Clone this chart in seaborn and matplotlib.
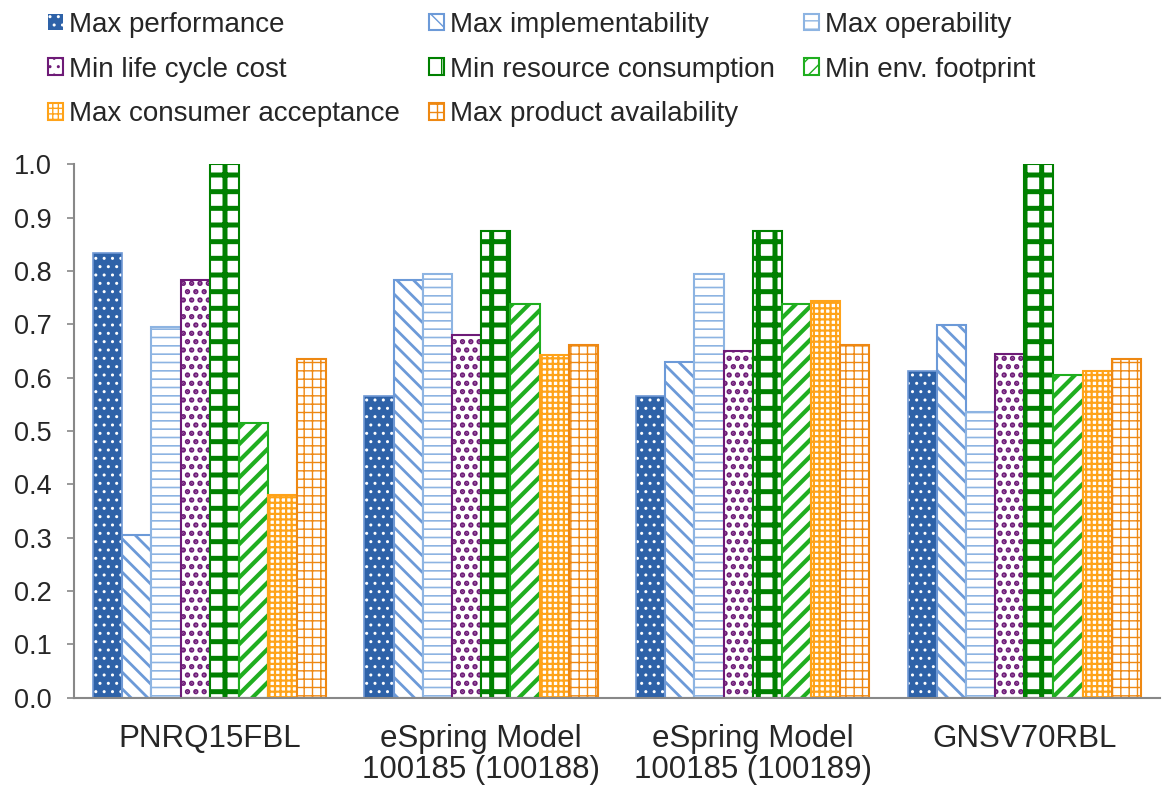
import pandas as pd
import numpy as np
import matplotlib.pyplot as plt
import matplotlib.patches as mpatches
import seaborn as sns

# categories and series
products = ['PNRQ15FBL', 'eSpring Model\n100185 (100188)',
            'eSpring Model\n100185 (100189)', 'GNSV70RBL']
criteria = ['Max performance', 'Max implementability', 'Max operability',
            'Min life cycle cost', 'Min resource consumption', 'Min env. footprint',
            'Max consumer acceptance', 'Max product availability']

max_performance = [0.833, 0.565, 0.565, 0.612]
max_implementability = [0.305, 0.783, 0.630, 0.698]
max_operability = [0.695, 0.795, 0.795, 0.535]
min_life_cycle_cost = [0.783, 0.680, 0.650, 0.645]
min_resource_consumption = [1.000, 0.875, 0.875, 1.000]
min_env_footprint = [0.515, 0.738, 0.738, 0.605]
max_consumer_acceptance = [0.380, 0.643, 0.743, 0.612]
max_product_availability = [0.635, 0.662, 0.662, 0.635]

series = [max_performance, max_implementability, max_operability,
          min_life_cycle_cost, min_resource_consumption, min_env_footprint,
          max_consumer_acceptance, max_product_availability]

colors = ['#2E62A8', '#6C9AD8', '#8DB4E2', '#6E1B77',
          '#008000', '#1FAE1F', '#FFA319', '#EE8812']
hatches = ['..', '\\\\', '--', '..', '+', '//', '+++', '++']
hatch_lw = [1.0, 2.0, 1.2, 2.6, 3.6, 3.0, 1.6, 1.0]

rows = []
for crit, vals in zip(criteria, series):
    for prod, v in zip(products, vals):
        rows.append({'product': prod, 'criterion': crit, 'value': v})
df = pd.DataFrame(rows)

sns.set_style('white')
plt.rcParams['font.family'] = ['Liberation Sans', 'DejaVu Sans']

fig = plt.figure(figsize=(11.67, 7.93), dpi=100)
ax = fig.add_axes([0.0634, 0.120, 0.9306, 0.673])

sns.barplot(data=df, x='product', y='value', hue='criterion', hue_order=criteria,
            palette=colors, saturation=1, width=0.86, legend=False, ax=ax)

for i, cont in enumerate(ax.containers):
    for bar in cont:
        if i == 0:
            bar.set_facecolor(colors[0])
            bar.set_edgecolor('white')
            bar.set_hatch(hatches[0])
            bar.set_linewidth(0)
            outline = mpatches.Rectangle((bar.get_x(), bar.get_y()), bar.get_width(),
                                         bar.get_height(), fill=False,
                                         edgecolor='#6F98D4', linewidth=1.2)
            ax.add_patch(outline)
        else:
            bar.set_facecolor('white')
            bar.set_edgecolor(colors[i])
            bar.set_hatch(hatches[i])
            bar.set_linewidth(1.5)
        if hasattr(bar, 'set_hatch_linewidth'):
            bar.set_hatch_linewidth(hatch_lw[i])

ax.set_ylim(0, 1.0)
ticks = np.arange(0, 1.01, 0.1)
ax.set_yticks(ticks)
ax.set_yticklabels([f'{t:.1f}' for t in ticks])
ax.set_xlabel('')
ax.set_ylabel('')
for s in ['top', 'right']:
    ax.spines[s].set_visible(False)
for s in ['left', 'bottom']:
    ax.spines[s].set_color('#888888')
    ax.spines[s].set_linewidth(1.5)
ax.tick_params(axis='y', which='both', left=True, length=5, width=1.2,
               color='#888888', labelsize=19.5, pad=11)
ax.tick_params(axis='x', bottom=False, labelsize=22.5, pad=15)
for lab in ax.get_xticklabels():
    lab.set_linespacing(1.05)

# legend in 3 rows, row-wise order
order = [0, 3, 6, 1, 4, 7, 2, 5]
handles = [ax.containers[k] for k in order]
labels = [criteria[k] for k in order]
fig.legend(handles, labels, loc='upper left', bbox_to_anchor=(48 / 1167, 0.985),
           ncol=3, frameon=False, fontsize=20, handlelength=0.54,
           handleheight=0.54, handletextpad=0.22, columnspacing=1.05,
           labelspacing=0.67, borderpad=0, borderaxespad=0)

fig.savefig('out.png', dpi=100)
